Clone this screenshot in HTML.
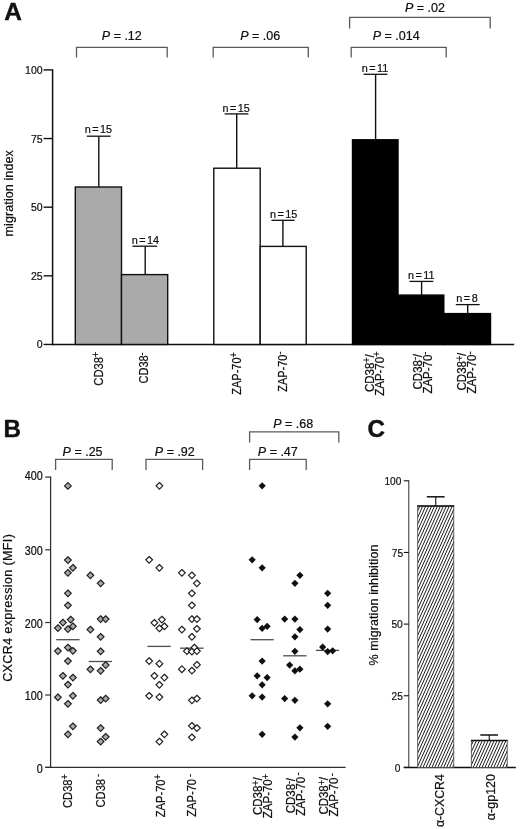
<!DOCTYPE html>
<html lang="en"><head><meta charset="utf-8"><title>Figure</title>
<style>
html,body{margin:0;padding:0;background:#fff;}
body{width:520px;height:829px;overflow:hidden;}
svg{display:block;font-family:'Liberation Sans', Arial, Helvetica, sans-serif;fill:#101010;}
svg text{stroke:#101010;stroke-width:0.22px;stroke-linejoin:round;}
svg text.b{stroke-width:0.4px;}
</style></head><body>
<svg width="520" height="829" viewBox="0 0 520 829" font-family="'Liberation Sans', Arial, Helvetica, sans-serif" fill="#101010">
<rect x="0" y="0" width="520" height="829" fill="#ffffff"/>
<text x="4.2" y="19.5" font-size="24.4" text-anchor="start" font-weight="bold" font-style="normal" class="b">A</text>
<line x1="52.6" y1="69.2" x2="52.6" y2="345.15" stroke="#101010" stroke-width="1.5"/>
<line x1="51.9" y1="344.45" x2="514.2" y2="344.45" stroke="#101010" stroke-width="1.5"/>
<line x1="43.6" y1="344.45" x2="52.6" y2="344.45" stroke="#101010" stroke-width="1.4"/>
<text transform="translate(42.7 347.95) scale(0.92 1)" font-size="11.5" text-anchor="end">0</text>
<line x1="43.6" y1="275.8125" x2="52.6" y2="275.8125" stroke="#101010" stroke-width="1.4"/>
<text transform="translate(42.7 279.96) scale(0.92 1)" font-size="11.5" text-anchor="end">25</text>
<line x1="43.6" y1="207.175" x2="52.6" y2="207.175" stroke="#101010" stroke-width="1.4"/>
<text transform="translate(42.7 211.33) scale(0.92 1)" font-size="11.5" text-anchor="end">50</text>
<line x1="43.6" y1="138.53750000000002" x2="52.6" y2="138.53750000000002" stroke="#101010" stroke-width="1.4"/>
<text transform="translate(42.7 142.69) scale(0.92 1)" font-size="11.5" text-anchor="end">75</text>
<line x1="43.6" y1="69.90000000000003" x2="52.6" y2="69.90000000000003" stroke="#101010" stroke-width="1.4"/>
<text transform="translate(42.7 74.05) scale(0.92 1)" font-size="11.5" text-anchor="end">100</text>
<text x="12.9" y="193.3" font-size="12.5" text-anchor="middle" font-weight="normal" font-style="normal" transform="rotate(-90 12.9 193.3)" letter-spacing="0.1">migration index</text>
<polyline points="76.5,57.6 76.5,47.3 167.2,47.3 167.2,57.6" fill="none" stroke="#5a5a5a" stroke-width="1.3"/>
<text x="121.8" y="40.2" font-size="12.5" text-anchor="middle"><tspan font-style="italic">P</tspan> = .12</text>
<polyline points="213.2,57.6 213.2,47.3 308.3,47.3 308.3,57.6" fill="none" stroke="#5a5a5a" stroke-width="1.3"/>
<text x="260.2" y="40.2" font-size="12.5" text-anchor="middle"><tspan font-style="italic">P</tspan> = .06</text>
<polyline points="351.2,57.6 351.2,47.3 446.2,47.3 446.2,57.6" fill="none" stroke="#5a5a5a" stroke-width="1.3"/>
<text x="396.2" y="40.2" font-size="12.5" text-anchor="middle"><tspan font-style="italic">P</tspan> = .014</text>
<polyline points="349.6,28.4 349.6,17.3 490.2,17.3 490.2,28.4" fill="none" stroke="#5a5a5a" stroke-width="1.3"/>
<text x="425.0" y="11.8" font-size="12.5" text-anchor="middle"><tspan font-style="italic">P</tspan> = .02</text>
<rect x="75.3" y="187.0" width="46.2" height="157.45" fill="#aaaaaa" stroke="#101010" stroke-width="1.4"/>
<line x1="98.8" y1="136.2" x2="98.8" y2="187.0" stroke="#101010" stroke-width="1.4"/>
<line x1="86.8" y1="136.2" x2="110.6" y2="136.2" stroke="#101010" stroke-width="1.3"/>
<text transform="translate(98.4 133.2) scale(0.96 1)" font-size="11.3" text-anchor="middle" word-spacing="-1.6">n = 15</text>
<rect x="121.5" y="274.6" width="46.2" height="69.85" fill="#aaaaaa" stroke="#101010" stroke-width="1.4"/>
<line x1="145.2" y1="246.2" x2="145.2" y2="274.6" stroke="#101010" stroke-width="1.4"/>
<line x1="132.4" y1="246.2" x2="157.2" y2="246.2" stroke="#101010" stroke-width="1.3"/>
<text transform="translate(145.4 244.0) scale(0.96 1)" font-size="11.3" text-anchor="middle" word-spacing="-1.6">n = 14</text>
<rect x="213.8" y="168.2" width="46.4" height="176.25" fill="#ffffff" stroke="#101010" stroke-width="1.4"/>
<line x1="236.7" y1="113.9" x2="236.7" y2="168.2" stroke="#101010" stroke-width="1.4"/>
<line x1="224.6" y1="113.9" x2="248.4" y2="113.9" stroke="#101010" stroke-width="1.3"/>
<text transform="translate(236.2 111.7) scale(0.96 1)" font-size="11.3" text-anchor="middle" word-spacing="-1.6">n = 15</text>
<rect x="260.2" y="246.4" width="46.0" height="98.05" fill="#ffffff" stroke="#101010" stroke-width="1.4"/>
<line x1="282.9" y1="220.3" x2="282.9" y2="246.4" stroke="#101010" stroke-width="1.4"/>
<line x1="271.4" y1="220.3" x2="294.6" y2="220.3" stroke="#101010" stroke-width="1.3"/>
<text transform="translate(283.6 218.1) scale(0.96 1)" font-size="11.3" text-anchor="middle" word-spacing="-1.6">n = 15</text>
<rect x="352.5" y="139.8" width="45.5" height="204.65" fill="#000" stroke="#000" stroke-width="1.4"/>
<line x1="375.6" y1="74.3" x2="375.6" y2="139.8" stroke="#101010" stroke-width="1.4"/>
<line x1="363.6" y1="74.3" x2="387.4" y2="74.3" stroke="#101010" stroke-width="1.3"/>
<text transform="translate(375.0 72.1) scale(0.96 1)" font-size="11.3" text-anchor="middle" word-spacing="-1.6">n = 11</text>
<rect x="398.0" y="295.1" width="45.8" height="49.35" fill="#000" stroke="#000" stroke-width="1.4"/>
<line x1="421.6" y1="281.4" x2="421.6" y2="295.1" stroke="#101010" stroke-width="1.4"/>
<line x1="409.5" y1="281.4" x2="433.3" y2="281.4" stroke="#101010" stroke-width="1.3"/>
<text transform="translate(421.2 279.2) scale(0.96 1)" font-size="11.3" text-anchor="middle" word-spacing="-1.6">n = 11</text>
<rect x="443.8" y="313.6" width="46.7" height="30.85" fill="#000" stroke="#000" stroke-width="1.4"/>
<line x1="467.7" y1="304.6" x2="467.7" y2="313.6" stroke="#101010" stroke-width="1.4"/>
<line x1="455.8" y1="304.6" x2="479.7" y2="304.6" stroke="#101010" stroke-width="1.3"/>
<text transform="translate(467.0 302.4) scale(0.96 1)" font-size="11.3" text-anchor="middle" word-spacing="-1.6">n = 8</text>
<text transform="translate(102.5 351.8) rotate(-90) scale(0.915 1)" font-size="12.2" text-anchor="end">CD38<tspan font-size="10" dy="-3.6" dx="0">+</tspan></text>
<text transform="translate(148.2 352.4) rotate(-90) scale(0.9 1)" font-size="12.2" text-anchor="end">CD38<tspan font-size="10" dy="-3.6" dx="0">-</tspan></text>
<text transform="translate(240.8 352.2) rotate(-90) scale(0.9 1)" font-size="12.2" text-anchor="end">ZAP-70<tspan font-size="10" dy="-3.6" dx="0">+</tspan></text>
<text transform="translate(286.6 351.6) rotate(-90) scale(0.9 1)" font-size="12.2" text-anchor="end">ZAP-70<tspan font-size="10" dy="-3.6" dx="0">-</tspan></text>
<text transform="translate(373.5 373.2) rotate(-90) scale(0.935 1)" font-size="12.3" text-anchor="middle">CD38<tspan font-size="10" dy="-3.6">+</tspan><tspan dy="3.6" dx="-0.4">/</tspan></text>
<text transform="translate(383.9 373.6) rotate(-90) scale(0.935 1)" font-size="12.3" text-anchor="middle">ZAP-70<tspan font-size="10" dy="-3.6" dx="0">+</tspan></text>
<text transform="translate(422.0 371.8) rotate(-90) scale(0.935 1)" font-size="12.3" text-anchor="middle">CD38<tspan font-size="10" dy="-3.6">-</tspan><tspan dy="3.6" dx="-0.4">/</tspan></text>
<text transform="translate(431.7 372.6) rotate(-90) scale(0.935 1)" font-size="12.3" text-anchor="middle">ZAP-70<tspan font-size="10" dy="-3.6" dx="0">-</tspan></text>
<text transform="translate(466.4 371.6) rotate(-90) scale(0.935 1)" font-size="12.3" text-anchor="middle">CD38<tspan font-size="10" dy="-3.6">+</tspan><tspan dy="3.6" dx="-0.4">/</tspan></text>
<text transform="translate(476.2 372.5) rotate(-90) scale(0.935 1)" font-size="12.3" text-anchor="middle">ZAP-70<tspan font-size="10" dy="-3.6" dx="0">-</tspan></text>
<text x="3.5" y="436.9" font-size="24.2" text-anchor="start" font-weight="bold" font-style="normal" class="b">B</text>
<line x1="50.6" y1="476.5" x2="50.6" y2="768.0" stroke="#2e2e2e" stroke-width="1.25"/>
<line x1="45.2" y1="767.4" x2="345.6" y2="767.4" stroke="#2e2e2e" stroke-width="1.25"/>
<line x1="45.2" y1="767.4" x2="50.6" y2="767.4" stroke="#2e2e2e" stroke-width="1.2"/>
<text transform="translate(42.7 773.3) scale(0.9 1)" font-size="12" text-anchor="end">0</text>
<line x1="45.2" y1="695.0" x2="50.6" y2="695.0" stroke="#2e2e2e" stroke-width="1.2"/>
<text transform="translate(42.7 700.1) scale(0.9 1)" font-size="12" text-anchor="end">100</text>
<line x1="45.2" y1="622.5" x2="50.6" y2="622.5" stroke="#2e2e2e" stroke-width="1.2"/>
<text transform="translate(42.7 627.5) scale(0.9 1)" font-size="12" text-anchor="end">200</text>
<line x1="45.2" y1="549.8" x2="50.6" y2="549.8" stroke="#2e2e2e" stroke-width="1.2"/>
<text transform="translate(42.7 555.1) scale(0.9 1)" font-size="12" text-anchor="end">300</text>
<line x1="45.2" y1="477.1" x2="50.6" y2="477.1" stroke="#2e2e2e" stroke-width="1.2"/>
<text transform="translate(42.7 480.4) scale(0.9 1)" font-size="12" text-anchor="end">400</text>
<text x="12.5" y="607.8" font-size="12.5" text-anchor="middle" font-weight="normal" font-style="normal" transform="rotate(-90 12.5 607.8)" letter-spacing="0.38">CXCR4 expression (MFI)</text>
<polyline points="55.6,470.0 55.6,459.4 112.2,459.4 112.2,470.0" fill="none" stroke="#5a5a5a" stroke-width="1.3"/>
<text x="82.6" y="455.8" font-size="12.5" text-anchor="middle"><tspan font-style="italic">P</tspan> = .25</text>
<polyline points="146.0,470.0 146.0,459.4 202.6,459.4 202.6,470.0" fill="none" stroke="#5a5a5a" stroke-width="1.3"/>
<text x="174.8" y="455.8" font-size="12.5" text-anchor="middle"><tspan font-style="italic">P</tspan> = .92</text>
<polyline points="249.6,470.0 249.6,459.4 306.2,459.4 306.2,470.0" fill="none" stroke="#5a5a5a" stroke-width="1.3"/>
<text x="277.8" y="455.8" font-size="12.5" text-anchor="middle"><tspan font-style="italic">P</tspan> = .47</text>
<polyline points="249.6,442.4 249.6,431.8 338.8,431.8 338.8,442.4" fill="none" stroke="#5a5a5a" stroke-width="1.3"/>
<text x="293.2" y="427.6" font-size="12.5" text-anchor="middle"><tspan font-style="italic">P</tspan> = .68</text>
<line x1="56.2" y1="639.7" x2="79.6" y2="639.7" stroke="#4c4c4c" stroke-width="1.3"/>
<line x1="88.8" y1="661.5" x2="112.1" y2="661.5" stroke="#4c4c4c" stroke-width="1.3"/>
<line x1="147.5" y1="646.4" x2="170.8" y2="646.4" stroke="#4c4c4c" stroke-width="1.3"/>
<line x1="180.0" y1="648.2" x2="203.6" y2="648.2" stroke="#4c4c4c" stroke-width="1.3"/>
<line x1="250.5" y1="639.7" x2="273.8" y2="639.7" stroke="#4c4c4c" stroke-width="1.3"/>
<line x1="283.2" y1="655.8000000000001" x2="306.5" y2="655.8000000000001" stroke="#4c4c4c" stroke-width="1.3"/>
<line x1="315.8" y1="650.4" x2="339.0" y2="650.4" stroke="#4c4c4c" stroke-width="1.3"/>
<path d="M67.9 482.55L71.25 485.90000000000003L67.9 489.25L64.55 485.90000000000003Z" fill="#aaaaaa" stroke="#202020" stroke-width="1.2"/>
<path d="M67.9 556.75L71.25 560.1L67.9 563.45L64.55 560.1Z" fill="#aaaaaa" stroke="#202020" stroke-width="1.2"/>
<path d="M72.9 564.5L76.25 567.85L72.9 571.2L69.55 567.85Z" fill="#aaaaaa" stroke="#202020" stroke-width="1.2"/>
<path d="M67.9 569.5L71.25 572.85L67.9 576.2L64.55 572.85Z" fill="#aaaaaa" stroke="#202020" stroke-width="1.2"/>
<path d="M67.9 590.0L71.25 593.35L67.9 596.7L64.55 593.35Z" fill="#aaaaaa" stroke="#202020" stroke-width="1.2"/>
<path d="M67.9 602.0L71.25 605.35L67.9 608.7L64.55 605.35Z" fill="#aaaaaa" stroke="#202020" stroke-width="1.2"/>
<path d="M70.65 616.25L74.0 619.6L70.65 622.95L67.3 619.6Z" fill="#aaaaaa" stroke="#202020" stroke-width="1.2"/>
<path d="M62.9 619.25L66.25 622.6L62.9 625.95L59.55 622.6Z" fill="#aaaaaa" stroke="#202020" stroke-width="1.2"/>
<path d="M72.9 623.0L76.25 626.35L72.9 629.7L69.55 626.35Z" fill="#aaaaaa" stroke="#202020" stroke-width="1.2"/>
<path d="M57.9 624.75L61.25 628.1L57.9 631.45L54.55 628.1Z" fill="#aaaaaa" stroke="#202020" stroke-width="1.2"/>
<path d="M67.9 625.75L71.25 629.1L67.9 632.45L64.55 629.1Z" fill="#aaaaaa" stroke="#202020" stroke-width="1.2"/>
<path d="M67.9 644.25L71.25 647.6L67.9 650.95L64.55 647.6Z" fill="#aaaaaa" stroke="#202020" stroke-width="1.2"/>
<path d="M57.9 647.75L61.25 651.1L57.9 654.45L54.55 651.1Z" fill="#aaaaaa" stroke="#202020" stroke-width="1.2"/>
<path d="M72.9 647.5L76.25 650.85L72.9 654.2L69.55 650.85Z" fill="#aaaaaa" stroke="#202020" stroke-width="1.2"/>
<path d="M67.9 657.75L71.25 661.1L67.9 664.45L64.55 661.1Z" fill="#aaaaaa" stroke="#202020" stroke-width="1.2"/>
<path d="M62.9 672.5L66.25 675.85L62.9 679.2L59.55 675.85Z" fill="#aaaaaa" stroke="#202020" stroke-width="1.2"/>
<path d="M72.9 674.25L76.25 677.6L72.9 680.95L69.55 677.6Z" fill="#aaaaaa" stroke="#202020" stroke-width="1.2"/>
<path d="M67.9 681.25L71.25 684.6L67.9 687.95L64.55 684.6Z" fill="#aaaaaa" stroke="#202020" stroke-width="1.2"/>
<path d="M72.9 692.5L76.25 695.85L72.9 699.2L69.55 695.85Z" fill="#aaaaaa" stroke="#202020" stroke-width="1.2"/>
<path d="M57.9 694.0L61.25 697.35L57.9 700.7L54.55 697.35Z" fill="#aaaaaa" stroke="#202020" stroke-width="1.2"/>
<path d="M67.9 700.5L71.25 703.85L67.9 707.2L64.55 703.85Z" fill="#aaaaaa" stroke="#202020" stroke-width="1.2"/>
<path d="M72.9 723.0L76.25 726.35L72.9 729.7L69.55 726.35Z" fill="#aaaaaa" stroke="#202020" stroke-width="1.2"/>
<path d="M67.9 731.0L71.25 734.35L67.9 737.7L64.55 734.35Z" fill="#aaaaaa" stroke="#202020" stroke-width="1.2"/>
<path d="M90.4 572.0L93.75 575.35L90.4 578.7L87.05 575.35Z" fill="#aaaaaa" stroke="#202020" stroke-width="1.2"/>
<path d="M100.65 580.0L104.0 583.35L100.65 586.7L97.3 583.35Z" fill="#aaaaaa" stroke="#202020" stroke-width="1.2"/>
<path d="M100.65 615.75L104.0 619.1L100.65 622.45L97.3 619.1Z" fill="#aaaaaa" stroke="#202020" stroke-width="1.2"/>
<path d="M105.65 615.75L109.0 619.1L105.65 622.45L102.3 619.1Z" fill="#aaaaaa" stroke="#202020" stroke-width="1.2"/>
<path d="M90.4 626.25L93.75 629.6L90.4 632.95L87.05 629.6Z" fill="#aaaaaa" stroke="#202020" stroke-width="1.2"/>
<path d="M100.65 633.5L104.0 636.85L100.65 640.2L97.3 636.85Z" fill="#aaaaaa" stroke="#202020" stroke-width="1.2"/>
<path d="M100.65 648.0L104.0 651.35L100.65 654.7L97.3 651.35Z" fill="#aaaaaa" stroke="#202020" stroke-width="1.2"/>
<path d="M105.65 661.75L109.0 665.1L105.65 668.45L102.3 665.1Z" fill="#aaaaaa" stroke="#202020" stroke-width="1.2"/>
<path d="M90.4 666.0L93.75 669.35L90.4 672.7L87.05 669.35Z" fill="#aaaaaa" stroke="#202020" stroke-width="1.2"/>
<path d="M100.65 667.5L104.0 670.85L100.65 674.2L97.3 670.85Z" fill="#aaaaaa" stroke="#202020" stroke-width="1.2"/>
<path d="M100.65 696.75L104.0 700.1L100.65 703.45L97.3 700.1Z" fill="#aaaaaa" stroke="#202020" stroke-width="1.2"/>
<path d="M105.65 695.25L109.0 698.6L105.65 701.95L102.3 698.6Z" fill="#aaaaaa" stroke="#202020" stroke-width="1.2"/>
<path d="M100.65 724.75L104.0 728.1L100.65 731.45L97.3 728.1Z" fill="#aaaaaa" stroke="#202020" stroke-width="1.2"/>
<path d="M105.65 733.5L109.0 736.85L105.65 740.2L102.3 736.85Z" fill="#aaaaaa" stroke="#202020" stroke-width="1.2"/>
<path d="M100.65 738.25L104.0 741.6L100.65 744.95L97.3 741.6Z" fill="#aaaaaa" stroke="#202020" stroke-width="1.2"/>
<path d="M159.4 482.5L162.75 485.85L159.4 489.2L156.05 485.85Z" fill="#ffffff" stroke="#202020" stroke-width="1.2"/>
<path d="M149.15 556.5L152.5 559.85L149.15 563.2L145.8 559.85Z" fill="#ffffff" stroke="#202020" stroke-width="1.2"/>
<path d="M159.4 564.5L162.75 567.85L159.4 571.2L156.05 567.85Z" fill="#ffffff" stroke="#202020" stroke-width="1.2"/>
<path d="M161.9 616.25L165.25 619.6L161.9 622.95L158.55 619.6Z" fill="#ffffff" stroke="#202020" stroke-width="1.2"/>
<path d="M154.4 619.5L157.75 622.85L154.4 626.2L151.05 622.85Z" fill="#ffffff" stroke="#202020" stroke-width="1.2"/>
<path d="M164.4 623.0L167.75 626.35L164.4 629.7L161.05 626.35Z" fill="#ffffff" stroke="#202020" stroke-width="1.2"/>
<path d="M159.4 625.0L162.75 628.35L159.4 631.7L156.05 628.35Z" fill="#ffffff" stroke="#202020" stroke-width="1.2"/>
<path d="M149.15 657.75L152.5 661.1L149.15 664.45L145.8 661.1Z" fill="#ffffff" stroke="#202020" stroke-width="1.2"/>
<path d="M159.4 660.35L162.75 663.7L159.4 667.05L156.05 663.7Z" fill="#ffffff" stroke="#202020" stroke-width="1.2"/>
<path d="M154.4 672.5L157.75 675.85L154.4 679.2L151.05 675.85Z" fill="#ffffff" stroke="#202020" stroke-width="1.2"/>
<path d="M164.4 674.25L167.75 677.6L164.4 680.95L161.05 677.6Z" fill="#ffffff" stroke="#202020" stroke-width="1.2"/>
<path d="M159.4 681.5L162.75 684.85L159.4 688.2L156.05 684.85Z" fill="#ffffff" stroke="#202020" stroke-width="1.2"/>
<path d="M149.15 692.5L152.5 695.85L149.15 699.2L145.8 695.85Z" fill="#ffffff" stroke="#202020" stroke-width="1.2"/>
<path d="M159.4 693.75L162.75 697.1L159.4 700.45L156.05 697.1Z" fill="#ffffff" stroke="#202020" stroke-width="1.2"/>
<path d="M164.4 731.0L167.75 734.35L164.4 737.7L161.05 734.35Z" fill="#ffffff" stroke="#202020" stroke-width="1.2"/>
<path d="M159.4 738.25L162.75 741.6L159.4 744.95L156.05 741.6Z" fill="#ffffff" stroke="#202020" stroke-width="1.2"/>
<path d="M181.9 569.5L185.25 572.85L181.9 576.2L178.55 572.85Z" fill="#ffffff" stroke="#202020" stroke-width="1.2"/>
<path d="M191.9 572.0L195.25 575.35L191.9 578.7L188.55 575.35Z" fill="#ffffff" stroke="#202020" stroke-width="1.2"/>
<path d="M196.9 580.0L200.25 583.35L196.9 586.7L193.55 583.35Z" fill="#ffffff" stroke="#202020" stroke-width="1.2"/>
<path d="M191.9 590.0L195.25 593.35L191.9 596.7L188.55 593.35Z" fill="#ffffff" stroke="#202020" stroke-width="1.2"/>
<path d="M191.9 602.0L195.25 605.35L191.9 608.7L188.55 605.35Z" fill="#ffffff" stroke="#202020" stroke-width="1.2"/>
<path d="M191.9 615.75L195.25 619.1L191.9 622.45L188.55 619.1Z" fill="#ffffff" stroke="#202020" stroke-width="1.2"/>
<path d="M196.9 615.75L200.25 619.1L196.9 622.45L193.55 619.1Z" fill="#ffffff" stroke="#202020" stroke-width="1.2"/>
<path d="M196.9 625.5L200.25 628.85L196.9 632.2L193.55 628.85Z" fill="#ffffff" stroke="#202020" stroke-width="1.2"/>
<path d="M181.9 626.25L185.25 629.6L181.9 632.95L178.55 629.6Z" fill="#ffffff" stroke="#202020" stroke-width="1.2"/>
<path d="M191.9 633.5L195.25 636.85L191.9 640.2L188.55 636.85Z" fill="#ffffff" stroke="#202020" stroke-width="1.2"/>
<path d="M194.4 644.25L197.75 647.6L194.4 650.95L191.05 647.6Z" fill="#ffffff" stroke="#202020" stroke-width="1.2"/>
<path d="M186.9 647.75L190.25 651.1L186.9 654.45L183.55 651.1Z" fill="#ffffff" stroke="#202020" stroke-width="1.2"/>
<path d="M191.9 648.25L195.25 651.6L191.9 654.95L188.55 651.6Z" fill="#ffffff" stroke="#202020" stroke-width="1.2"/>
<path d="M196.9 647.75L200.25 651.1L196.9 654.45L193.55 651.1Z" fill="#ffffff" stroke="#202020" stroke-width="1.2"/>
<path d="M196.9 661.5L200.25 664.85L196.9 668.2L193.55 664.85Z" fill="#ffffff" stroke="#202020" stroke-width="1.2"/>
<path d="M181.9 665.85L185.25 669.2L181.9 672.55L178.55 669.2Z" fill="#ffffff" stroke="#202020" stroke-width="1.2"/>
<path d="M191.9 667.25L195.25 670.6L191.9 673.95L188.55 670.6Z" fill="#ffffff" stroke="#202020" stroke-width="1.2"/>
<path d="M191.9 697.0L195.25 700.35L191.9 703.7L188.55 700.35Z" fill="#ffffff" stroke="#202020" stroke-width="1.2"/>
<path d="M196.9 695.25L200.25 698.6L196.9 701.95L193.55 698.6Z" fill="#ffffff" stroke="#202020" stroke-width="1.2"/>
<path d="M191.9 722.5L195.25 725.85L191.9 729.2L188.55 725.85Z" fill="#ffffff" stroke="#202020" stroke-width="1.2"/>
<path d="M196.9 724.75L200.25 728.1L196.9 731.45L193.55 728.1Z" fill="#ffffff" stroke="#202020" stroke-width="1.2"/>
<path d="M191.9 734.0L195.25 737.35L191.9 740.7L188.55 737.35Z" fill="#ffffff" stroke="#202020" stroke-width="1.2"/>
<path d="M262.15 482.25L265.75 485.85L262.15 489.45L258.55 485.85Z" fill="#101010" stroke="none" stroke-width="0"/>
<path d="M252.15 556.25L255.75 559.85L252.15 563.45L248.55 559.85Z" fill="#101010" stroke="none" stroke-width="0"/>
<path d="M262.15 564.25L265.75 567.85L262.15 571.45L258.55 567.85Z" fill="#101010" stroke="none" stroke-width="0"/>
<path d="M257.15 616.0L260.75 619.6L257.15 623.2L253.55 619.6Z" fill="#101010" stroke="none" stroke-width="0"/>
<path d="M267.15 622.75L270.75 626.35L267.15 629.95L263.55 626.35Z" fill="#101010" stroke="none" stroke-width="0"/>
<path d="M262.15 624.75L265.75 628.35L262.15 631.95L258.55 628.35Z" fill="#101010" stroke="none" stroke-width="0"/>
<path d="M262.15 657.5L265.75 661.1L262.15 664.7L258.55 661.1Z" fill="#101010" stroke="none" stroke-width="0"/>
<path d="M257.15 672.25L260.75 675.85L257.15 679.45L253.55 675.85Z" fill="#101010" stroke="none" stroke-width="0"/>
<path d="M267.15 674.0L270.75 677.6L267.15 681.2L263.55 677.6Z" fill="#101010" stroke="none" stroke-width="0"/>
<path d="M262.15 681.25L265.75 684.85L262.15 688.45L258.55 684.85Z" fill="#101010" stroke="none" stroke-width="0"/>
<path d="M252.15 692.25L255.75 695.85L252.15 699.45L248.55 695.85Z" fill="#101010" stroke="none" stroke-width="0"/>
<path d="M262.15 693.5L265.75 697.1L262.15 700.7L258.55 697.1Z" fill="#101010" stroke="none" stroke-width="0"/>
<path d="M262.15 730.75L265.75 734.35L262.15 737.95L258.55 734.35Z" fill="#101010" stroke="none" stroke-width="0"/>
<path d="M299.9 571.75L303.5 575.35L299.9 578.95L296.3 575.35Z" fill="#101010" stroke="none" stroke-width="0"/>
<path d="M294.9 579.75L298.5 583.35L294.9 586.95L291.3 583.35Z" fill="#101010" stroke="none" stroke-width="0"/>
<path d="M284.65 615.5L288.25 619.1L284.65 622.7L281.05 619.1Z" fill="#101010" stroke="none" stroke-width="0"/>
<path d="M294.9 615.5L298.5 619.1L294.9 622.7L291.3 619.1Z" fill="#101010" stroke="none" stroke-width="0"/>
<path d="M299.9 626.0L303.5 629.6L299.9 633.2L296.3 629.6Z" fill="#101010" stroke="none" stroke-width="0"/>
<path d="M294.9 633.25L298.5 636.85L294.9 640.45L291.3 636.85Z" fill="#101010" stroke="none" stroke-width="0"/>
<path d="M294.9 647.75L298.5 651.35L294.9 654.95L291.3 651.35Z" fill="#101010" stroke="none" stroke-width="0"/>
<path d="M289.65 661.5L293.25 665.1L289.65 668.7L286.05 665.1Z" fill="#101010" stroke="none" stroke-width="0"/>
<path d="M299.9 665.6L303.5 669.2L299.9 672.8L296.3 669.2Z" fill="#101010" stroke="none" stroke-width="0"/>
<path d="M294.9 667.25L298.5 670.85L294.9 674.45L291.3 670.85Z" fill="#101010" stroke="none" stroke-width="0"/>
<path d="M284.65 695.0L288.25 698.6L284.65 702.2L281.05 698.6Z" fill="#101010" stroke="none" stroke-width="0"/>
<path d="M294.9 696.75L298.5 700.35L294.9 703.95L291.3 700.35Z" fill="#101010" stroke="none" stroke-width="0"/>
<path d="M299.9 724.25L303.5 727.85L299.9 731.45L296.3 727.85Z" fill="#101010" stroke="none" stroke-width="0"/>
<path d="M294.9 733.5L298.5 737.1L294.9 740.7L291.3 737.1Z" fill="#101010" stroke="none" stroke-width="0"/>
<path d="M327.65 589.75L331.25 593.35L327.65 596.95L324.05 593.35Z" fill="#101010" stroke="none" stroke-width="0"/>
<path d="M327.65 601.75L331.25 605.35L327.65 608.95L324.05 605.35Z" fill="#101010" stroke="none" stroke-width="0"/>
<path d="M327.65 625.5L331.25 629.1L327.65 632.7L324.05 629.1Z" fill="#101010" stroke="none" stroke-width="0"/>
<path d="M322.65 643.5L326.25 647.1L322.65 650.7L319.05 647.1Z" fill="#101010" stroke="none" stroke-width="0"/>
<path d="M327.65 648.0L331.25 651.6L327.65 655.2L324.05 651.6Z" fill="#101010" stroke="none" stroke-width="0"/>
<path d="M332.65 647.25L336.25 650.85L332.65 654.45L329.05 650.85Z" fill="#101010" stroke="none" stroke-width="0"/>
<path d="M327.65 700.25L331.25 703.85L327.65 707.45L324.05 703.85Z" fill="#101010" stroke="none" stroke-width="0"/>
<path d="M327.65 722.75L331.25 726.35L327.65 729.95L324.05 726.35Z" fill="#101010" stroke="none" stroke-width="0"/>
<text transform="translate(71.5 774.0) rotate(-90) scale(0.93 1)" font-size="12" text-anchor="end">CD38<tspan font-size="10" dy="-3.6" dx="0">+</tspan></text>
<text transform="translate(104.6 774.0) rotate(-90) scale(0.93 1)" font-size="12" text-anchor="end">CD38<tspan font-size="10" dy="-3.6" dx="2">-</tspan></text>
<text transform="translate(165.0 774.0) rotate(-90) scale(0.93 1)" font-size="12" text-anchor="end">ZAP-70<tspan font-size="10" dy="-3.6" dx="0">+</tspan></text>
<text transform="translate(196.2 774.0) rotate(-90) scale(0.93 1)" font-size="12" text-anchor="end">ZAP-70<tspan font-size="10" dy="-3.6" dx="2">-</tspan></text>
<text transform="translate(262.1 796.2) rotate(-90) scale(0.935 1)" font-size="12.3" text-anchor="middle">CD38<tspan font-size="10" dy="-3.6">+</tspan><tspan dy="3.6" dx="-0.4">/</tspan></text>
<text transform="translate(272.1 796.0) rotate(-90) scale(0.935 1)" font-size="12.3" text-anchor="middle">ZAP-70<tspan font-size="10" dy="-3.6" dx="0">+</tspan></text>
<text transform="translate(295.2 795.6) rotate(-90) scale(0.935 1)" font-size="12.3" text-anchor="middle">CD38<tspan font-size="10" dy="-3.6">-</tspan><tspan dy="3.6" dx="-0.4">/</tspan></text>
<text transform="translate(305.0 794.0) rotate(-90) scale(0.935 1)" font-size="12.3" text-anchor="middle">ZAP-70<tspan font-size="10" dy="-3.6" dx="1.5">-</tspan></text>
<text transform="translate(328.1 795.8) rotate(-90) scale(0.935 1)" font-size="12.3" text-anchor="middle">CD38<tspan font-size="10" dy="-3.6">+</tspan><tspan dy="3.6" dx="-0.4">/</tspan></text>
<text transform="translate(338.1 794.8) rotate(-90) scale(0.935 1)" font-size="12.3" text-anchor="middle">ZAP-70<tspan font-size="10" dy="-3.6" dx="1.5">-</tspan></text>
<text x="367.5" y="437.4" font-size="24.2" text-anchor="start" font-weight="bold" font-style="normal" class="b">C</text>
<line x1="408.8" y1="480.3" x2="408.8" y2="767.4" stroke="#2e2e2e" stroke-width="1.0"/>
<line x1="403.8" y1="767.4" x2="515.8" y2="767.4" stroke="#101010" stroke-width="1.5"/>
<line x1="403.8" y1="767.4" x2="408.8" y2="767.4" stroke="#101010" stroke-width="1.1"/>
<text transform="translate(400.3 771.6) scale(0.9 1)" font-size="11.3" text-anchor="end">0</text>
<line x1="403.8" y1="695.75" x2="408.8" y2="695.75" stroke="#101010" stroke-width="1.1"/>
<text transform="translate(402.9 699.95) scale(0.9 1)" font-size="11.3" text-anchor="end">25</text>
<line x1="403.8" y1="624.1" x2="408.8" y2="624.1" stroke="#101010" stroke-width="1.1"/>
<text transform="translate(402.7 628.3) scale(0.9 1)" font-size="11.3" text-anchor="end">50</text>
<line x1="403.8" y1="552.45" x2="408.8" y2="552.45" stroke="#101010" stroke-width="1.1"/>
<text transform="translate(403.1 556.65) scale(0.9 1)" font-size="11.3" text-anchor="end">75</text>
<line x1="403.8" y1="480.8" x2="408.8" y2="480.8" stroke="#101010" stroke-width="1.1"/>
<text transform="translate(401.4 485.0) scale(0.9 1)" font-size="11.3" text-anchor="end">100</text>
<text x="377.8" y="605.0" font-size="12.5" text-anchor="middle" font-weight="normal" font-style="normal" transform="rotate(-90 377.8 605.0)" letter-spacing="0.1">% migration inhibition</text>
<clipPath id="cp0"><rect x="417.7" y="506.0" width="36.1" height="261.4"/></clipPath>
<rect x="417.7" y="506.0" width="36.1" height="261.4" fill="#fff"/>
<path d="M413.95 506.0L296.2 767.4M416.9 506.0L299.15 767.4M419.85 506.0L302.1 767.4M422.8 506.0L305.05 767.4M425.75 506.0L308.0 767.4M428.7 506.0L310.95 767.4M431.65 506.0L313.9 767.4M434.6 506.0L316.85 767.4M437.55 506.0L319.8 767.4M440.5 506.0L322.75 767.4M443.45 506.0L325.7 767.4M446.4 506.0L328.65 767.4M449.35 506.0L331.6 767.4M452.3 506.0L334.55 767.4M455.25 506.0L337.5 767.4M458.2 506.0L340.45 767.4M461.15 506.0L343.4 767.4M464.1 506.0L346.35 767.4M467.05 506.0L349.3 767.4M470.0 506.0L352.25 767.4M472.95 506.0L355.2 767.4M475.9 506.0L358.15 767.4M478.85 506.0L361.1 767.4M481.8 506.0L364.05 767.4M484.75 506.0L367.0 767.4M487.7 506.0L369.95 767.4M490.65 506.0L372.9 767.4M493.6 506.0L375.85 767.4M496.55 506.0L378.8 767.4M499.5 506.0L381.75 767.4M502.45 506.0L384.7 767.4M505.4 506.0L387.65 767.4M508.35 506.0L390.6 767.4M511.3 506.0L393.55 767.4M514.25 506.0L396.5 767.4M517.2 506.0L399.45 767.4M520.15 506.0L402.4 767.4M523.1 506.0L405.35 767.4M526.05 506.0L408.3 767.4M529.0 506.0L411.25 767.4M531.95 506.0L414.2 767.4M534.9 506.0L417.15 767.4M537.85 506.0L420.1 767.4M540.8 506.0L423.05 767.4M543.75 506.0L426.0 767.4M546.7 506.0L428.95 767.4M549.65 506.0L431.9 767.4M552.6 506.0L434.85 767.4M555.55 506.0L437.8 767.4M558.5 506.0L440.75 767.4M561.45 506.0L443.7 767.4M564.4 506.0L446.65 767.4M567.35 506.0L449.6 767.4M570.3 506.0L452.55 767.4M573.25 506.0L455.5 767.4M576.2 506.0L458.45 767.4" stroke="#1c1c1c" stroke-width="1.0" fill="none" clip-path="url(#cp0)"/>
<rect x="417.7" y="506.0" width="36.1" height="261.4" fill="none" stroke="#444" stroke-width="0.8"/>
<line x1="417.3" y1="506.0" x2="454.2" y2="506.0" stroke="#101010" stroke-width="1.5"/>
<line x1="435.75" y1="496.8" x2="435.75" y2="506.0" stroke="#101010" stroke-width="1.1"/>
<line x1="426.8" y1="496.8" x2="444.6" y2="496.8" stroke="#101010" stroke-width="1.5"/>
<clipPath id="cp1"><rect x="471.3" y="740.5" width="35.9" height="26.9"/></clipPath>
<rect x="471.3" y="740.5" width="35.9" height="26.9" fill="#fff"/>
<path d="M467.62 740.5L455.5 767.4M470.57 740.5L458.45 767.4M473.52 740.5L461.4 767.4M476.47 740.5L464.35 767.4M479.42 740.5L467.3 767.4M482.37 740.5L470.25 767.4M485.32 740.5L473.2 767.4M488.27 740.5L476.15 767.4M491.22 740.5L479.1 767.4M494.17 740.5L482.05 767.4M497.12 740.5L485.0 767.4M500.07 740.5L487.95 767.4M503.02 740.5L490.9 767.4M505.97 740.5L493.85 767.4M508.92 740.5L496.8 767.4M511.87 740.5L499.75 767.4M514.82 740.5L502.7 767.4M517.77 740.5L505.65 767.4M520.72 740.5L508.6 767.4M523.67 740.5L511.55 767.4" stroke="#1c1c1c" stroke-width="1.0" fill="none" clip-path="url(#cp1)"/>
<rect x="471.3" y="740.5" width="35.9" height="26.9" fill="none" stroke="#444" stroke-width="0.8"/>
<line x1="470.90000000000003" y1="740.5" x2="507.59999999999997" y2="740.5" stroke="#101010" stroke-width="1.4"/>
<line x1="489.25" y1="735.0" x2="489.25" y2="740.5" stroke="#101010" stroke-width="1.1"/>
<line x1="480.3" y1="735.0" x2="498.0" y2="735.0" stroke="#101010" stroke-width="1.5"/>
<text transform="translate(443.5 774.2) rotate(-90) scale(0.985 1)" font-size="12.5" text-anchor="end">α-CXCR4</text>
<text transform="translate(494.8 774.0) rotate(-90) scale(1.0 1)" font-size="12.5" text-anchor="end">α-gp120</text>
</svg>
</body></html>
